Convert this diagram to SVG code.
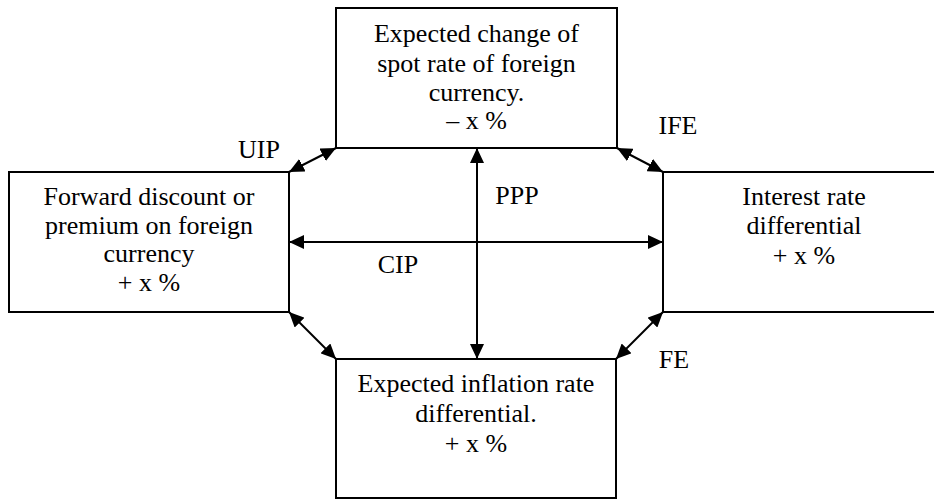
<svg xmlns="http://www.w3.org/2000/svg" width="934" height="500" viewBox="0 0 934 500">
<style>
.box{fill:#fff;stroke:#000;stroke-width:2}
.c{stroke:#000;stroke-width:2;fill:none;marker-start:url(#ah);marker-end:url(#ah)}
</style>
<defs>
<marker id="ah" viewBox="0 0 15 14" refX="15" refY="7" markerWidth="15" markerHeight="14" markerUnits="userSpaceOnUse" orient="auto-start-reverse">
<path d="M0,0 L15,7 L0,14 z" fill="#000"/>
</marker>
</defs>
<rect width="934" height="500" fill="#fff"/>
<g id="spot">
<rect class="box" x="336" y="8" width="281" height="140"/>
<text font-family="Liberation Serif" font-size="26" text-anchor="middle" x="476.5" y="42">Expected change of</text>
<text font-family="Liberation Serif" font-size="26" text-anchor="middle" x="476.5" y="72">spot rate of foreign</text>
<text font-family="Liberation Serif" font-size="26" text-anchor="middle" x="476.5" y="101">currency.</text>
<text font-family="Liberation Serif" font-size="26" text-anchor="middle" x="476.5" y="129">– x %</text>
</g>
<g id="forward">
<rect class="box" x="9" y="172" width="280" height="140"/>
<text font-family="Liberation Serif" font-size="26" text-anchor="middle" x="149" y="205">Forward discount or</text>
<text font-family="Liberation Serif" font-size="26" text-anchor="middle" x="149" y="234">premium on foreign</text>
<text font-family="Liberation Serif" font-size="26" text-anchor="middle" x="149" y="262">currency</text>
<text font-family="Liberation Serif" font-size="26" text-anchor="middle" x="149" y="291">+ x %</text>
</g>
<g id="interest">
<rect class="box" x="663" y="172" width="300" height="140"/>
<text font-family="Liberation Serif" font-size="26" text-anchor="middle" x="804" y="205">Interest rate</text>
<text font-family="Liberation Serif" font-size="26" text-anchor="middle" x="804" y="234">differential</text>
<text font-family="Liberation Serif" font-size="26" text-anchor="middle" x="804" y="264">+ x %</text>
</g>
<g id="inflation">
<rect class="box" x="336" y="359" width="280" height="139"/>
<text font-family="Liberation Serif" font-size="26" text-anchor="middle" x="476" y="392">Expected inflation rate</text>
<text font-family="Liberation Serif" font-size="26" text-anchor="middle" x="476" y="422">differential.</text>
<text font-family="Liberation Serif" font-size="26" text-anchor="middle" x="476" y="452">+ x %</text>
</g>
<g id="connectors">
<line class="c" x1="289" y1="172" x2="336" y2="148"/>
<line class="c" x1="617" y1="148" x2="663" y2="172"/>
<line class="c" x1="289" y1="312" x2="336" y2="359"/>
<line class="c" x1="663" y1="312" x2="616" y2="359"/>
<line class="c" x1="477" y1="148" x2="477" y2="359"/>
<line class="c" x1="289" y1="242" x2="663" y2="242"/>
<text font-family="Liberation Serif" font-size="26" text-anchor="middle" x="259" y="158">UIP</text>
<text font-family="Liberation Serif" font-size="26" text-anchor="middle" x="678" y="134">IFE</text>
<text font-family="Liberation Serif" font-size="26" text-anchor="middle" x="517" y="204">PPP</text>
<text font-family="Liberation Serif" font-size="26" text-anchor="middle" x="398" y="273">CIP</text>
<text font-family="Liberation Serif" font-size="26" text-anchor="middle" x="674" y="368">FE</text>
</g>
</svg>
